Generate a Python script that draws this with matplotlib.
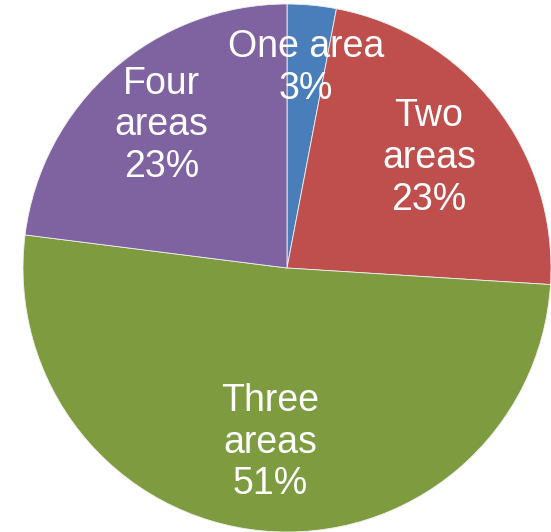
import matplotlib
matplotlib.use("Agg")
import matplotlib.pyplot as plt
import numpy as np

categories = ["One area", "Two areas", "Three areas", "Four areas"]
label_lines = ["One area", "Two\nareas", "Three\nareas", "Four\nareas"]
values = [3, 23, 51, 23]
colors = ["#4A7EBB", "#BE4F4C", "#7E9B40", "#7F63A1"]
label_radius = [0.76, 0.68, 0.665, 0.72]

fig = plt.figure(figsize=(5.51, 5.32), dpi=100)
ax = fig.add_axes([0, 0, 1, 1])
wedges, _ = ax.pie(values, colors=colors, startangle=90, counterclock=False,
                   radius=1.0, wedgeprops=dict(edgecolor="#F0F0F0", linewidth=0.6))
total = sum(values)
for w, lab, v, r in zip(wedges, label_lines, values, label_radius):
    ang = np.deg2rad((w.theta1 + w.theta2) / 2)
    txt = f"{lab}\n{round(100 * v / total)}%"
    ax.text(r * np.cos(ang), r * np.sin(ang), txt, ha="center", va="center",
            color="white", fontsize=27, family=["Liberation Sans", "DejaVu Sans"],
            linespacing=1.2)

ax.set_xlim(-287 / 264, 264 / 264)
ax.set_ylim(-264 / 264, 268 / 264)
ax.set_aspect("auto")
ax.axis("off")
fig.savefig("out.png", dpi=100)
